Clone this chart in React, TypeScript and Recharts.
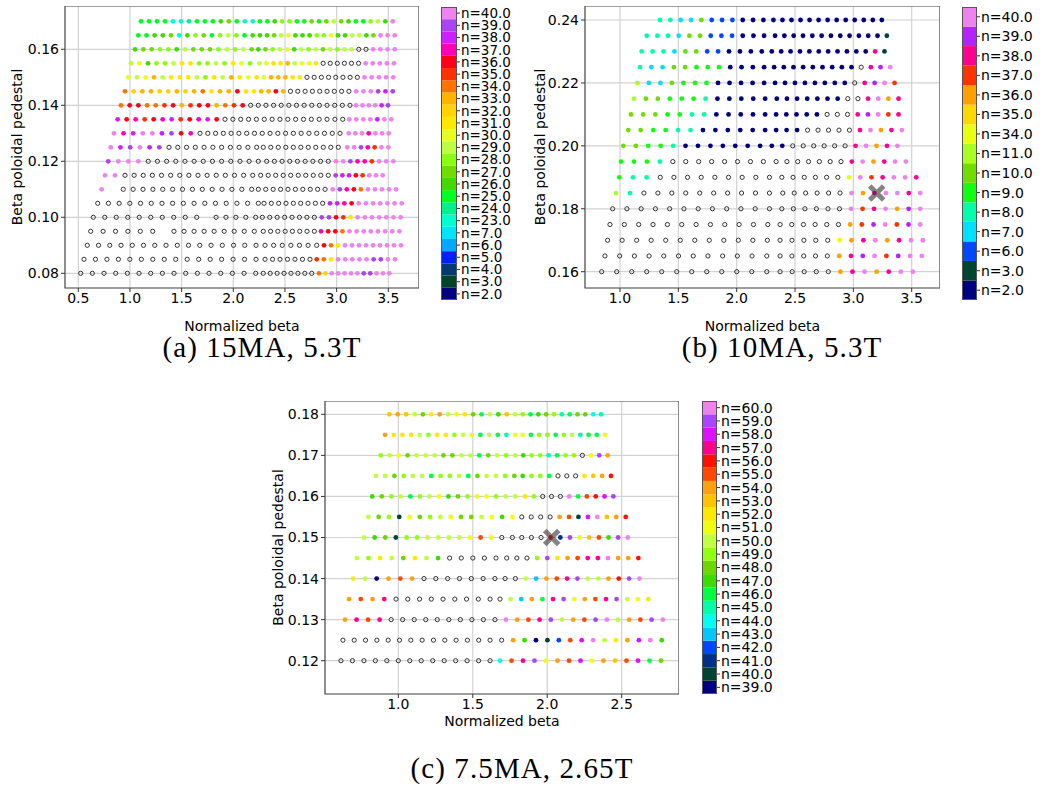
import { ScatterChart, Scatter, XAxis, YAxis, CartesianGrid, ReferenceArea, BarChart, Bar } from 'recharts'

type Seg = [number, number, string]
interface Row { y: number; segs: Seg[] }

// each row: segments [x start, x end, one code per marker], '.' = not converged (hollow), ' ' = missing

// (a) 15MA, 5.3T
const nA = [2, 3, 4, 5, 6, 7, 23, 24, 25, 26, 27, 28, 29, 30, 31, 32, 33, 34, 35, 36, 37, 38, 39, 40]
const codesA = 'NdDBSCcqEhgGLlyYAOrRKMPV'
const colorsA = ['#000080', '#00442c', '#003a70', '#0020ff', '#00a8ff', '#00e4ff', '#00ffd0', '#00f090', '#00ff20', '#40dc00', '#70dc00', '#88ff10', '#bcff40', '#e4ff20', '#ffe800', '#ffd400', '#ffb400', '#ff7400', '#ff3000', '#ff0018', '#ff00b8', '#cc20ff', '#aa44f0', '#ee82ee']
const rowsA: Row[] = [
  { y: 0.17, segs: [[1.107, 2.188, 'EEEEccqEEEhgEcc'], [2.258, 3.543, 'EEhGGEEgEgLghEEGLhV']] },
  { y: 0.165, segs: [[1.081, 2.188, 'EEhhgchGgEGLGEh'], [2.258, 3.562, 'hhgLlhhhGGlhhLLhgVVV']] },
  { y: 0.16, segs: [[1.049, 2.178, 'hggGGhLgggGLGLg'], [2.242, 3.562, 'hgGLlhLGLgLGLL..VVVV']] },
  { y: 0.155, segs: [[1.01, 2.162, 'LlhGGLyyGGLGylG'], [2.252, 3.555, 'LlyyALlly......VVVVV']] },
  { y: 0.15, segs: [[0.984, 2.145, 'lLlALyyyLGyLAyl'], [2.226, 3.548, 'ylAAAyy........VVVVV']] },
  { y: 0.145, segs: [[0.952, 2.123, 'OYAAYYAYAOyAARy'], [2.2, 3.543, 'yAARA.........VVVPMP']] },
  { y: 0.14, segs: [[0.913, 2.091, 'ORROOrRArRRAOrR'], [2.168, 3.129, '..............'], [3.188, 3.497, 'VVVVMP']] },
  { y: 0.135, segs: [[0.881, 1.839, 'MRKrRKMrRKMR'], [1.92, 3.059, '................'], [3.123, 3.529, 'VVVVMVV']] },
  { y: 0.13, segs: [[0.845, 1.588, 'VKMVVMPRK'], [1.678, 3.033, '...................'], [3.117, 3.504, 'VVVKVVV']] },
  { y: 0.125, segs: [[0.814, 1.284, 'VMPVMP'], [1.378, 2.226, '...........'], [2.29, 3.016, '...........'], [3.103, 3.5, 'VVPKrVV']] },
  { y: 0.12, segs: [[0.79, 1.081, 'PVVV'], [1.177, 2.242, '.............'], [2.323, 2.919, '.........'], [2.994, 3.549, 'VVPKKrVVV']] },
  { y: 0.115, segs: [[0.758, 0.855, 'VV'], [0.952, 2.188, '...............'], [2.265, 2.919, '..........'], [2.991, 3.446, 'PMMRrVVV']] },
  { y: 0.11, segs: [[0.726, 0.726, 'V'], [0.935, 2.178, '..............'], [2.242, 2.888, '..........'], [2.962, 3.575, 'VPKROVVVVV']] },
  { y: 0.105, segs: [[0.688, 2.242, '................'], [2.297, 2.865, '.........'], [2.936, 3.63, 'MMKRVVVVVVV']] },
  { y: 0.1, segs: [[0.645, 1.646, '..........'], [1.833, 2.217, '.....'], [2.281, 2.784, '........'], [2.856, 3.62, 'PPRryVVVVVVV']] },
  { y: 0.095, segs: [[0.62, 1.22, '......'], [1.426, 2.203, '.........'], [2.29, 2.784, '........'], [2.849, 3.607, 'KRROVVVVVVVV']] },
  { y: 0.09, segs: [[0.587, 2.22, '................'], [2.307, 2.807, '.......'], [2.878, 3.623, 'ROyVVVVVVVVV']] },
  { y: 0.085, segs: [[0.555, 2.22, '................'], [2.307, 2.742, '.......'], [2.807, 3.565, 'rOyVVVVVPPVV']] },
  { y: 0.08, segs: [[0.523, 2.217, '................'], [2.29, 2.759, '........'], [2.829, 3.51, 'OYVVVVVPPVVV']] },
]

// (b) 10MA, 5.3T
const nB = [2, 3, 6, 7, 8, 9, 10, 11, 34, 35, 36, 37, 38, 39, 40]
const codesB = 'NdBCcEgLlYArKPV'
const colorsB = ['#000080', '#004433', '#0048ff', '#00e0ff', '#00ffaa', '#10ff10', '#70dc00', '#a8ff20', '#e8ff10', '#ffd800', '#ffa000', '#ff3300', '#ff0090', '#b522ff', '#ee82ee']
const rowsB: Row[] = [
  { y: 0.24, segs: [[1.343, 2.229, 'ccCCgBBBNNN'], [2.315, 3.244, 'NNNNNNNNNNNNN']] },
  { y: 0.235, segs: [[1.229, 2.235, 'cccCggBBBNNN'], [2.329, 3.287, 'NNNNNNNNNNNNd']] },
  { y: 0.23, segs: [[1.186, 2.215, 'cccCggBBNNNN'], [2.301, 3.267, 'NNNNNNNNNNNKd']] },
  { y: 0.225, segs: [[1.172, 2.235, 'cCCggEEENNNN'], [2.321, 3.316, 'NNNNNNNNN.KPV']] },
  { y: 0.22, segs: [[1.149, 2.235, 'LCCgEEENNNNN'], [2.329, 3.353, 'NNNNNNNN.KPVr']] },
  { y: 0.215, segs: [[1.12, 2.244, 'LggEEEcNNNNN'], [2.344, 3.387, 'NNNNNNN..KVAK']] },
  { y: 0.21, segs: [[1.094, 2.244, 'gggEEccNNNNN'], [2.338, 3.387, 'NNNNN...KPVrK']] },
  { y: 0.205, segs: [[1.071, 2.244, 'ggEEccNNNNNN'], [2.338, 3.416, 'NNN.....KVAKV']] },
  { y: 0.2, segs: [[1.029, 2.201, 'ggEEcNNNNNNN'], [2.301, 3.378, 'NN......KVAKV']] },
  { y: 0.195, segs: [[1.009, 2.229, 'EEEc........'], [2.338, 3.45, '.......KVAKVV']] },
  { y: 0.19, segs: [[0.994, 2.281, 'Ecc.........'], [2.387, 3.539, '......lVrKVVK']] },
  { y: 0.185, segs: [[0.966, 2.281, 'Lc..........'], [2.395, 3.573, '......VAKVVKV']] },
  { y: 0.18, segs: [[0.937, 2.281, '............'], [2.387, 3.573, '......VrKVAPV']] },
  { y: 0.175, segs: [[0.914, 2.267, '............'], [2.372, 3.573, '......ArPVrPV']] },
  { y: 0.17, segs: [[0.894, 2.263, '............'], [2.372, 3.596, '.....lAKVAKVV']] },
  { y: 0.165, segs: [[0.871, 2.258, '............'], [2.372, 3.587, '.....AKPVrPVV']] },
  { y: 0.16, segs: [[0.843, 2.258, '............'], [2.372, 3.51, '.....AKVAKVV']] },
]
const marksB = [{ x: 3.2, y: 0.185 }]

// (c) 7.5MA, 2.65T
const nC = [39, 40, 41, 42, 43, 44, 45, 46, 47, 48, 49, 50, 51, 52, 53, 54, 55, 56, 57, 58, 59, 60]
const codesC = 'NdDBSCcEhgGLlyYArRKMPV'
const colorsC = ['#000080', '#004433', '#00308a', '#0048ff', '#00c8ff', '#00fff0', '#00ffa8', '#00ff40', '#3cdc00', '#6cd800', '#90ff10', '#c0ff40', '#eeff10', '#ffe800', '#ffc400', '#ffa010', '#ff4800', '#ff1000', '#ff0090', '#dd10ff', '#aa44ff', '#ee82ee']
const rowsC: Row[] = [
  { y: 0.18, segs: [[0.94, 1.784, 'YAYLgyALlygELhYL'], [1.835, 2.361, 'GEhgGcEggCc']] },
  { y: 0.175, segs: [[0.911, 1.784, 'AyyyLGyyGLlELEcl'], [1.835, 2.388, 'lEGGEGLcEEl']] },
  { y: 0.17, segs: [[0.882, 1.784, 'GLlgLLLggLLEgLGL'], [1.839, 2.406, 'hGGcEGG.lPA']] },
  { y: 0.165, segs: [[0.85, 1.779, 'LLgGLLEGGLEgLLGg'], [1.835, 2.428, 'hGGE...yYAR']] },
  { y: 0.16, segs: [[0.825, 1.784, 'hgGLEGLlhgGllGLL'], [1.851, 2.444, 'yG...VErRMP']] },
  { y: 0.155, segs: [[0.799, 1.766, 'LgGdlgGLlggLlhl'], [1.829, 2.527, '....ArdMVYAR']] },
  { y: 0.15, segs: [[0.77, 1.766, 'LhgdGGLLLLlrl..'], [1.829, 2.541, '...RDPlYrhPV']] },
  { y: 0.145, segs: [[0.722, 1.656, 'LGyLgyLh.....'], [1.728, 2.612, '...GPyArKKVAAR']] },
  { y: 0.14, segs: [[0.696, 1.649, 'yLNArA.......'], [1.717, 2.619, '..LSArKPLLARPV']] },
  { y: 0.135, segs: [[0.669, 1.616, 'ArAK.........'], [1.683, 2.679, '.LSAEKPlArKPLly']] },
  { y: 0.13, segs: [[0.642, 1.649, 'AKrK..........'], [1.723, 2.776, 'VArKPLArPVLArPV']] },
  { y: 0.125, segs: [[0.628, 1.616, '..............'], [1.694, 2.769, '.AhNdBrMVLyAMVh']] },
  { y: 0.12, segs: [[0.615, 1.616, '..............'], [1.683, 2.764, 'CrKPlArMlAYrMEg']] },
]
const marksC = [{ x: 2.03, y: 0.15 }]

function toPoints(rows: Row[]) {
  const pts: { x: number; y: number; c: string }[] = []
  rows.forEach(r => r.segs.forEach(([x0, x1, s]) => {
    for (let i = 0; i < s.length; i++) {
      if (s[i] === ' ') continue
      const x = s.length > 1 ? x0 + ((x1 - x0) * i) / (s.length - 1) : x0
      pts.push({ x, y: r.y, c: s[i] })
    }
  }))
  return pts
}

const dotShape = (codes: string, colors: string[]) => (props: any) => {
  const { cx, cy, payload } = props
  if (payload.c === '.') {
    return <circle cx={cx} cy={cy} r={2.1} fill="none" stroke="#333" strokeWidth={1} />
  }
  return <circle cx={cx} cy={cy} r={2.4} fill={colors[codes.indexOf(payload.c)]} />
}

const crossShape = (props: any) => {
  const { cx, cy } = props
  const d = 7
  return (
    <path
      d={`M${cx - d},${cy - d}L${cx + d},${cy + d}M${cx - d},${cy + d}L${cx + d},${cy - d}`}
      stroke="#333"
      strokeWidth={5}
      opacity={0.6}
    />
  )
}

interface PanelProps {
  left: number
  top: number
  width: number
  height: number
  xDomain: [number, number]
  yDomain: [number, number]
  xTicks: number[]
  yTicks: number[]
  rows: Row[]
  codes: string
  colors: string[]
  marks?: { x: number; y: number }[]
  yLabelOffset: number
  xLabelOffset: number
}

function Panel(p: PanelProps) {
  const tick = { fill: '#000', fontSize: 14 }
  return (
    <div style={{ position: 'absolute', left: p.left, top: p.top }}>
      <ScatterChart width={p.width} height={p.height} margin={{ top: 0, right: 0, bottom: 0, left: 0 }}>
        <CartesianGrid stroke="#d2d2d2" strokeWidth={1.2} />
        <XAxis
          type="number"
          dataKey="x"
          domain={p.xDomain}
          ticks={p.xTicks}
          allowDataOverflow
          tickFormatter={(v: number) => v.toFixed(1)}
          height={45}
          axisLine={false}
          tickSize={4}
          tickMargin={1}
          stroke="#333"
          tick={tick}
          label={{ value: 'Normalized beta', position: 'insideBottom', offset: p.xLabelOffset, fill: '#000', fontSize: 14 }}
        />
        <YAxis
          type="number"
          dataKey="y"
          domain={p.yDomain}
          ticks={p.yTicks}
          allowDataOverflow
          tickFormatter={(v: number) => v.toFixed(2)}
          width={65}
          axisLine={false}
          tickSize={4}
          tickMargin={2}
          stroke="#333"
          tick={tick}
          label={{ value: 'Beta poloidal pedestal', angle: -90, position: 'insideLeft', offset: p.yLabelOffset, fill: '#000', fontSize: 14, style: { textAnchor: 'middle' } }}
        />
        <ReferenceArea x1={p.xDomain[0]} x2={p.xDomain[1]} y1={p.yDomain[0]} y2={p.yDomain[1]} fill="none" stroke="#555" strokeWidth={1.2} />
        <Scatter data={toPoints(p.rows)} shape={dotShape(p.codes, p.colors)} isAnimationActive={false} />
        {p.marks && <Scatter data={p.marks} shape={crossShape} isAnimationActive={false} />}
      </ScatterChart>
    </div>
  )
}

function ColorBar({ left, top, height, barWidth, ns, colors, fontSize }: { left: number; top: number; height: number; barWidth: number; ns: number[]; colors: string[]; fontSize: number }) {
  const row: Record<string, number | string> = { k: 'c' }
  ns.forEach((_, i) => { row[`s${i}`] = 1 })
  const axisW = 62
  const pad = 10
  return (
    <div style={{ position: 'absolute', left, top: top - pad }}>
      <BarChart width={barWidth + axisW} height={height + 2 * pad} data={[row]} margin={{ top: pad, right: 0, bottom: pad, left: 0 }} barCategoryGap={0}>
        <XAxis dataKey="k" hide />
        <YAxis
          orientation="right"
          type="number"
          domain={[0, ns.length]}
          ticks={ns.map((_, i) => i + 0.5)}
          interval={0}
          tickFormatter={(v: number) => `n=${ns[Math.floor(v)].toFixed(1)}`}
          width={axisW}
          axisLine={false}
          tickSize={3}
          tickMargin={1}
          stroke="#333"
          tick={{ fill: '#000', fontSize }}
        />
        {ns.map((n, i) => (
          <Bar key={n} dataKey={`s${i}`} stackId="cb" fill={colors[i]} isAnimationActive={false} />
        ))}
      </BarChart>
      <div style={{ position: 'absolute', left: 0, top: pad, width: barWidth, height, border: '1px solid #555', boxSizing: 'border-box' }} />
    </div>
  )
}

const captionStyle = {
  position: 'absolute' as const,
  fontFamily: '"Liberation Serif", serif',
  fontSize: 29,
  letterSpacing: 1.1,
  textAlign: 'center' as const,
  width: 300,
  lineHeight: '34px',
  color: '#000',
}

export default function App() {
  return (
    <div style={{ position: 'absolute', left: 0, top: 0, width: 1040, height: 787, background: '#fff', fontFamily: '"DejaVu Sans", sans-serif', overflow: 'hidden' }}>
      <Panel
        left={0} top={6} width={419} height={327}
        xDomain={[0.3713, 3.797]} yDomain={[0.07475, 0.17546]}
        xTicks={[0.5, 1.0, 1.5, 2.0, 2.5, 3.0, 3.5]} yTicks={[0.08, 0.1, 0.12, 0.14, 0.16]}
        rows={rowsA} codes={codesA} colors={colorsA} yLabelOffset={17} xLabelOffset={2}
      />
      <ColorBar left={441} top={7} height={293} barWidth={16} ns={nA} colors={colorsA} fontSize={13.5} />
      <Panel
        left={520} top={6} width={420} height={327}
        xDomain={[0.7, 3.7426]} yDomain={[0.15482, 0.24445]}
        xTicks={[1.0, 1.5, 2.0, 2.5, 3.0, 3.5]} yTicks={[0.16, 0.18, 0.2, 0.22, 0.24]}
        rows={rowsB} codes={codesB} colors={colorsB} marks={marksB} yLabelOffset={20} xLabelOffset={2}
      />
      <ColorBar left={962} top={7} height={293} barWidth={15} ns={nB} colors={colorsB} fontSize={14} />
      <Panel
        left={260} top={401} width={419} height={338}
        xDomain={[0.5077, 2.8848]} yDomain={[0.11189, 0.18324]}
        xTicks={[1.0, 1.5, 2.0, 2.5]} yTicks={[0.12, 0.13, 0.14, 0.15, 0.16, 0.17, 0.18]}
        rows={rowsC} codes={codesC} colors={colorsC} marks={marksC} yLabelOffset={18} xLabelOffset={13}
      />
      <ColorBar left={702} top={401} height={293} barWidth={15} ns={nC} colors={colorsC} fontSize={14} />
      <div style={{ ...captionStyle, left: 112, top: 330 }}>(a) 15MA, 5.3T</div>
      <div style={{ ...captionStyle, left: 632, top: 330 }}>(b) 10MA, 5.3T</div>
      <div style={{ ...captionStyle, left: 372, top: 751 }}>(c) 7.5MA, 2.65T</div>
    </div>
  )
}
